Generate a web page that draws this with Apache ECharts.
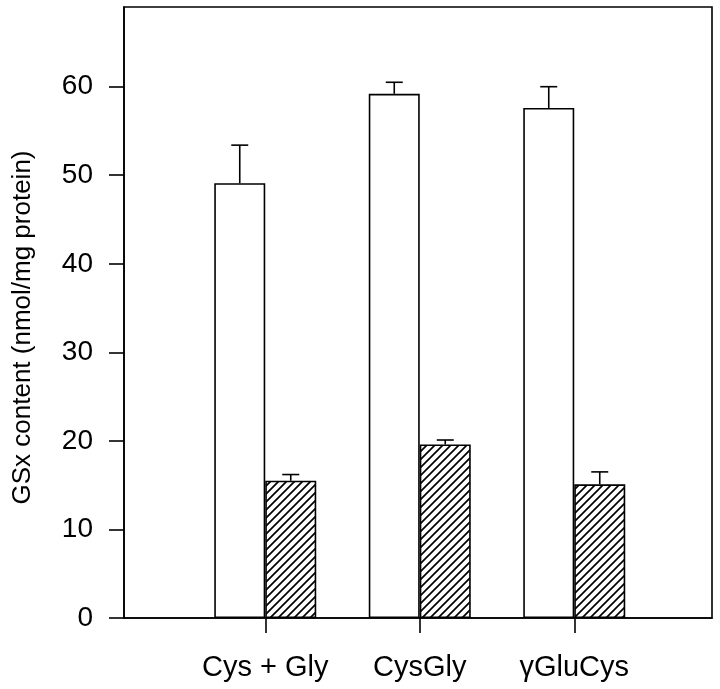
<!DOCTYPE html>
<html><head><meta charset="utf-8">
<script src="https://cdn.jsdelivr.net/npm/echarts@6/dist/echarts.min.js"></script>
<style>html,body{margin:0;padding:0;background:#fff}#c{width:720px;height:689px}</style>
</head><body><div id="c"></div>
<script>
const categories = ['Cys + Gly', 'CysGly', 'γGluCys'];
const controlValues = [49.1, 59.2, 57.6];
const controlErrors = [4.3, 1.3, 2.4];
const hatchedValues = [15.5, 19.6, 15.1];
const hatchedErrors = [0.7, 0.5, 1.4];
const yTicks = [0, 10, 20, 30, 40, 50, 60];
const yTitle = 'GSx content (nmol/mg protein)';

const FONT = '"Liberation Sans", Arial, sans-serif';
const BAR_W = 51;

function hatchPattern() {
  const s = 8;
  const cv = document.createElement('canvas');
  cv.width = s; cv.height = s;
  const ctx = cv.getContext('2d');
  ctx.fillStyle = '#fff';
  ctx.fillRect(0, 0, s, s);
  ctx.strokeStyle = '#000';
  ctx.lineWidth = 1.7;
  ctx.beginPath();
  ctx.moveTo(-1, s + 1); ctx.lineTo(s + 1, -1);
  ctx.moveTo(-1, 1); ctx.lineTo(1, -1);
  ctx.moveTo(s - 1, s + 1); ctx.lineTo(s + 1, s - 1);
  ctx.stroke();
  return cv;
}

function errorSeries(values, errors, offset) {
  return {
    type: 'custom',
    xAxisIndex: 1, yAxisIndex: 1,
    z: 1,
    data: values.map((v, i) => [i, v, v + errors[i]]),
    renderItem: function (params, api) {
      const base = api.coord([api.value(0), api.value(1)]);
      const top = api.coord([api.value(0), api.value(2)]);
      const x = base[0] + offset;
      return {
        type: 'group',
        children: [
          { type: 'line', shape: { x1: x, y1: base[1], x2: x, y2: top[1] }, style: { stroke: '#000', lineWidth: 1.6 } },
          { type: 'line', shape: { x1: x - 8.5, y1: top[1], x2: x + 8.5, y2: top[1] }, style: { stroke: '#000', lineWidth: 1.6 } }
        ]
      };
    }
  };
}

const chart = echarts.init(document.getElementById('c'), null, { renderer: 'canvas' });
chart.setOption({
  animation: false,
  backgroundColor: '#fff',
  grid: [
    { left: 124, top: 7, width: 588, bottom: 71, show: true, borderColor: '#000', borderWidth: 1.6, backgroundColor: 'transparent', containLabel: false },
    { left: 188, top: 7, width: 463.5, bottom: 71, containLabel: false }
  ],
  xAxis: [
    { gridIndex: 0, type: 'value', min: 0, max: 1, axisLine: { show: true, lineStyle: { color: '#000', width: 1.6 } }, axisTick: { show: false }, axisLabel: { show: false }, splitLine: { show: false } },
    { gridIndex: 1, type: 'category', data: categories, boundaryGap: true,
      axisLine: { show: false },
      axisTick: { show: true, alignWithLabel: true, interval: 0, inside: false, length: 15, lineStyle: { color: '#000', width: 1.6 } },
      axisLabel: { interval: 0, margin: 35, color: '#000', fontSize: 29, fontFamily: FONT },
      splitLine: { show: false } }
  ],
  yAxis: [
    { gridIndex: 0, type: 'value', min: 0, max: 69,
      name: yTitle, nameLocation: 'middle', nameGap: 88,
      nameTextStyle: { fontSize: 26, color: '#000', fontFamily: FONT, padding: [0, 30, 0, 0] },
      axisLine: { show: true, lineStyle: { color: '#000', width: 1.6 } },
      axisTick: { show: true, inside: false, length: 15, customValues: yTicks, lineStyle: { color: '#000', width: 1.6 } },
      axisLabel: { margin: 31, fontSize: 28, color: '#000', fontFamily: FONT, customValues: yTicks },
      splitLine: { show: false } },
    { gridIndex: 1, type: 'value', min: 0, max: 69, show: false }
  ],
  series: [
    { type: 'bar', xAxisIndex: 1, yAxisIndex: 1, data: controlValues, barWidth: BAR_W, barGap: '0%',
      itemStyle: { color: '#fff', borderColor: '#000', borderWidth: 1.6 }, z: 2 },
    { type: 'bar', xAxisIndex: 1, yAxisIndex: 1, data: hatchedValues, barWidth: BAR_W, barGap: '0%',
      itemStyle: { color: { image: hatchPattern(), repeat: 'repeat' }, borderColor: '#000', borderWidth: 1.6 }, z: 2 },
    errorSeries(controlValues, controlErrors, -BAR_W / 2),
    errorSeries(hatchedValues, hatchedErrors, BAR_W / 2)
  ]
});
</script>
</body></html>
